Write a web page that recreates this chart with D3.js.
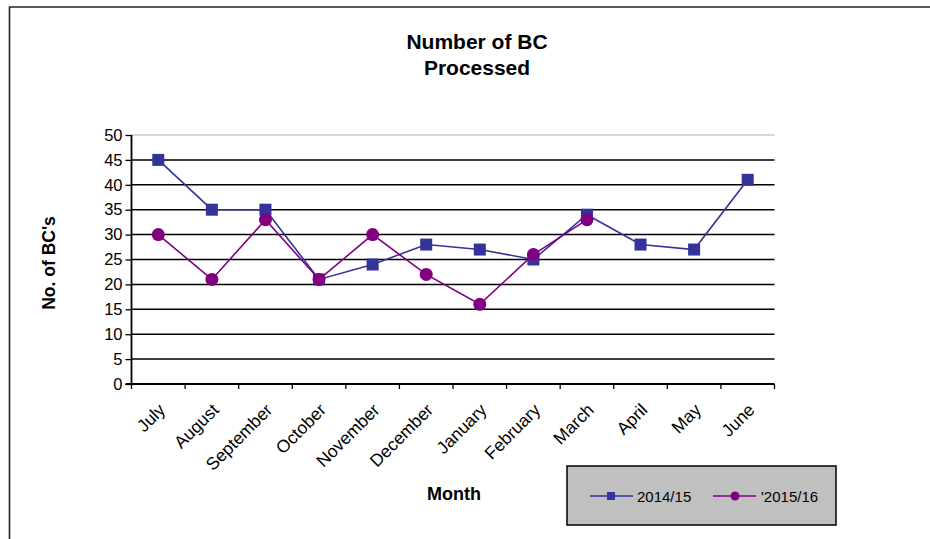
<!DOCTYPE html>
<html><head><meta charset="utf-8">
<script src="https://cdn.jsdelivr.net/npm/d3@7"></script>
<style>body{margin:0;background:#fff}svg{display:block;font-family:"Liberation Sans",Arial,sans-serif}</style>
</head><body><svg id="c" width="930" height="539"></svg>
<script>
const months = ["July","August","September","October","November","December","January","February","March","April","May","June"];
const series1Name = "2014/15";
const series1 = [45,35,35,21,24,28,27,25,34,28,27,41];
const series2Name = "'2015/16";
const series2 = [30,21,33,21,30,22,16,26,33];
const yTicks = [0,5,10,15,20,25,30,35,40,45,50];

const svg = d3.select("#c");
// outer border (top + left)
svg.append("path").attr("d","M9.5,545 L9.5,7 L940,7").attr("fill","none").attr("stroke","#222").attr("stroke-width",1.6);

const L=131.5, R=774.5, T=135, B=384;
const x = d3.scaleBand().domain(months).range([L,R]);
const y = d3.scaleLinear().domain([0,50]).range([B,T]);

// gridlines
svg.append("g").selectAll("line").data(yTicks.filter(d=>d>0)).join("line")
  .attr("x1",L).attr("x2",R).attr("y1",d=>y(d)).attr("y2",d=>y(d))
  .attr("stroke",d=>d===50?"#c8c8c8":"#000").attr("stroke-width",1.5);

// y axis
const ya = svg.append("g").attr("transform",`translate(${L},0)`)
  .call(d3.axisLeft(y).tickValues(yTicks).tickSize(6).tickPadding(3));
ya.select(".domain").attr("stroke","#000").attr("stroke-width",1.8).attr("d",`M0,${B}V${T}`);
ya.selectAll(".tick line").attr("stroke","#000").attr("stroke-width",1.3);
ya.selectAll("text").attr("font-size",16.5).attr("fill","#000").attr("font-family","Liberation Sans, Arial");

// x axis
const xa = svg.append("g").attr("transform",`translate(0,${B})`);
xa.append("line").attr("x1",L-6).attr("x2",R).attr("stroke","#000").attr("stroke-width",1.8);
const bounds = months.map((m,i)=>x(m)).concat([R]);
xa.selectAll("line.tk").data(bounds).join("line").attr("class","tk")
  .attr("x1",d=>d).attr("x2",d=>d).attr("y1",0).attr("y2",5).attr("stroke","#000").attr("stroke-width",1.3);
xa.selectAll("text").data(months).join("text")
  .attr("transform",d=>`translate(${x(d)+x.bandwidth()/2+8},${27}) rotate(-45)`)
  .attr("text-anchor","end").attr("font-size",17.5).attr("fill","#000").text(d=>d);

const cx = d=>x(d)+x.bandwidth()/2;
const line = d3.line().x(d=>cx(d.m)).y(d=>y(d.v));
const d1 = series1.map((v,i)=>({m:months[i],v}));
const d2 = series2.map((v,i)=>({m:months[i],v}));
const c1="#333399", c2="#800080";

svg.append("path").datum(d1).attr("d",line).attr("fill","none").attr("stroke",c1).attr("stroke-width",1.6);
svg.append("g").selectAll("rect").data(d1).join("rect")
  .attr("x",d=>cx(d.m)-6).attr("y",d=>y(d.v)-6).attr("width",12).attr("height",12).attr("fill",c1);
svg.append("path").datum(d2).attr("d",line).attr("fill","none").attr("stroke",c2).attr("stroke-width",1.6);
svg.append("g").selectAll("circle").data(d2).join("circle")
  .attr("cx",d=>cx(d.m)).attr("cy",d=>y(d.v)).attr("r",6.5).attr("fill",c2);

// titles
const t = svg.append("text").attr("text-anchor","middle").attr("font-weight","bold").attr("font-size",21).attr("fill","#000");
t.append("tspan").attr("x",477).attr("y",49).text("Number of BC");
t.append("tspan").attr("x",477).attr("y",75).text("Processed");
svg.append("text").attr("transform","translate(55,263) rotate(-90)").attr("text-anchor","middle")
  .attr("font-weight","bold").attr("font-size",17.5).attr("fill","#000").text("No. of BC's");
svg.append("text").attr("x",454).attr("y",500).attr("text-anchor","middle")
  .attr("font-weight","bold").attr("font-size",18).attr("fill","#000").text("Month");

// legend
const lg = svg.append("g");
lg.append("rect").attr("x",567).attr("y",466).attr("width",269).attr("height",59).attr("fill","#c0c0c0").attr("stroke","#000").attr("stroke-width",1.5);
const ly=496;
lg.append("line").attr("x1",590).attr("x2",633).attr("y1",ly).attr("y2",ly).attr("stroke",c1).attr("stroke-width",1.6);
lg.append("rect").attr("x",611-4).attr("y",ly-4).attr("width",8).attr("height",8).attr("fill",c1);
lg.append("text").attr("x",637).attr("y",ly+5.5).attr("font-size",15).attr("fill","#000").text(series1Name);
lg.append("line").attr("x1",713).attr("x2",756).attr("y1",ly).attr("y2",ly).attr("stroke",c2).attr("stroke-width",1.6);
lg.append("circle").attr("cx",735).attr("cy",ly).attr("r",4.5).attr("fill",c2);
lg.append("text").attr("x",761).attr("y",ly+5.5).attr("font-size",15).attr("fill","#000").text(series2Name);
</script></body></html>
